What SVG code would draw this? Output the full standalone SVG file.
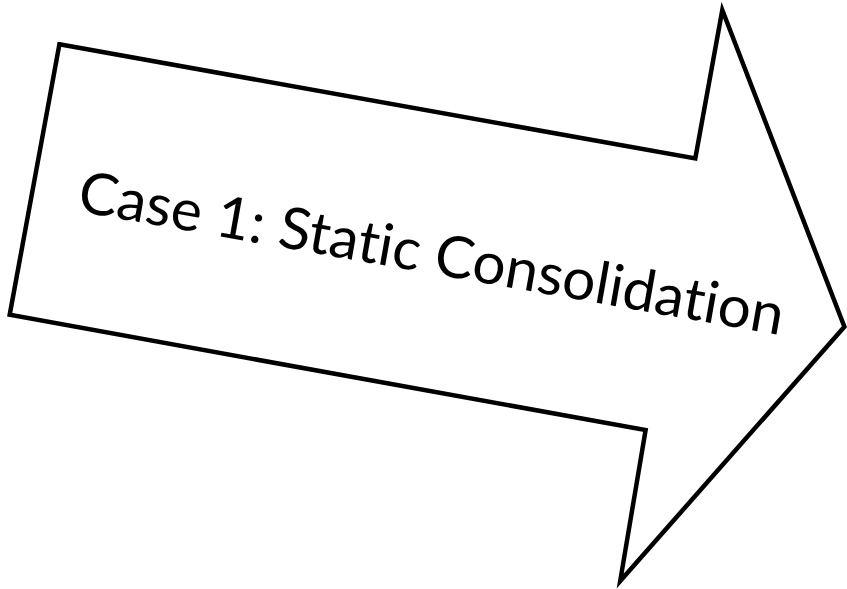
<svg xmlns="http://www.w3.org/2000/svg" width="847" height="589" viewBox="0 0 847 589">
<style>
.shape{fill:#fff;stroke:#000;stroke-width:4.5;stroke-linejoin:miter}
.lbl{font-family:Lato,"Open Sans","Liberation Sans",sans-serif;font-size:58px;fill:#000;font-variant-ligatures:none;font-feature-settings:"liga" 0}
</style>
<rect width="847" height="589" fill="#fff"/>
<g id="arrow">
<polygon class="shape" points="59.4,44.3 695.3,158.5 722.3,10 844.4,326.8 620.2,581 645.6,430.1 9.7,314.8"/>
<text class="lbl" transform="translate(76,211) rotate(10)" x="0" y="0" textLength="715" lengthAdjust="spacingAndGlyphs">Case 1: Static Consolidation</text>
</g>
</svg>
